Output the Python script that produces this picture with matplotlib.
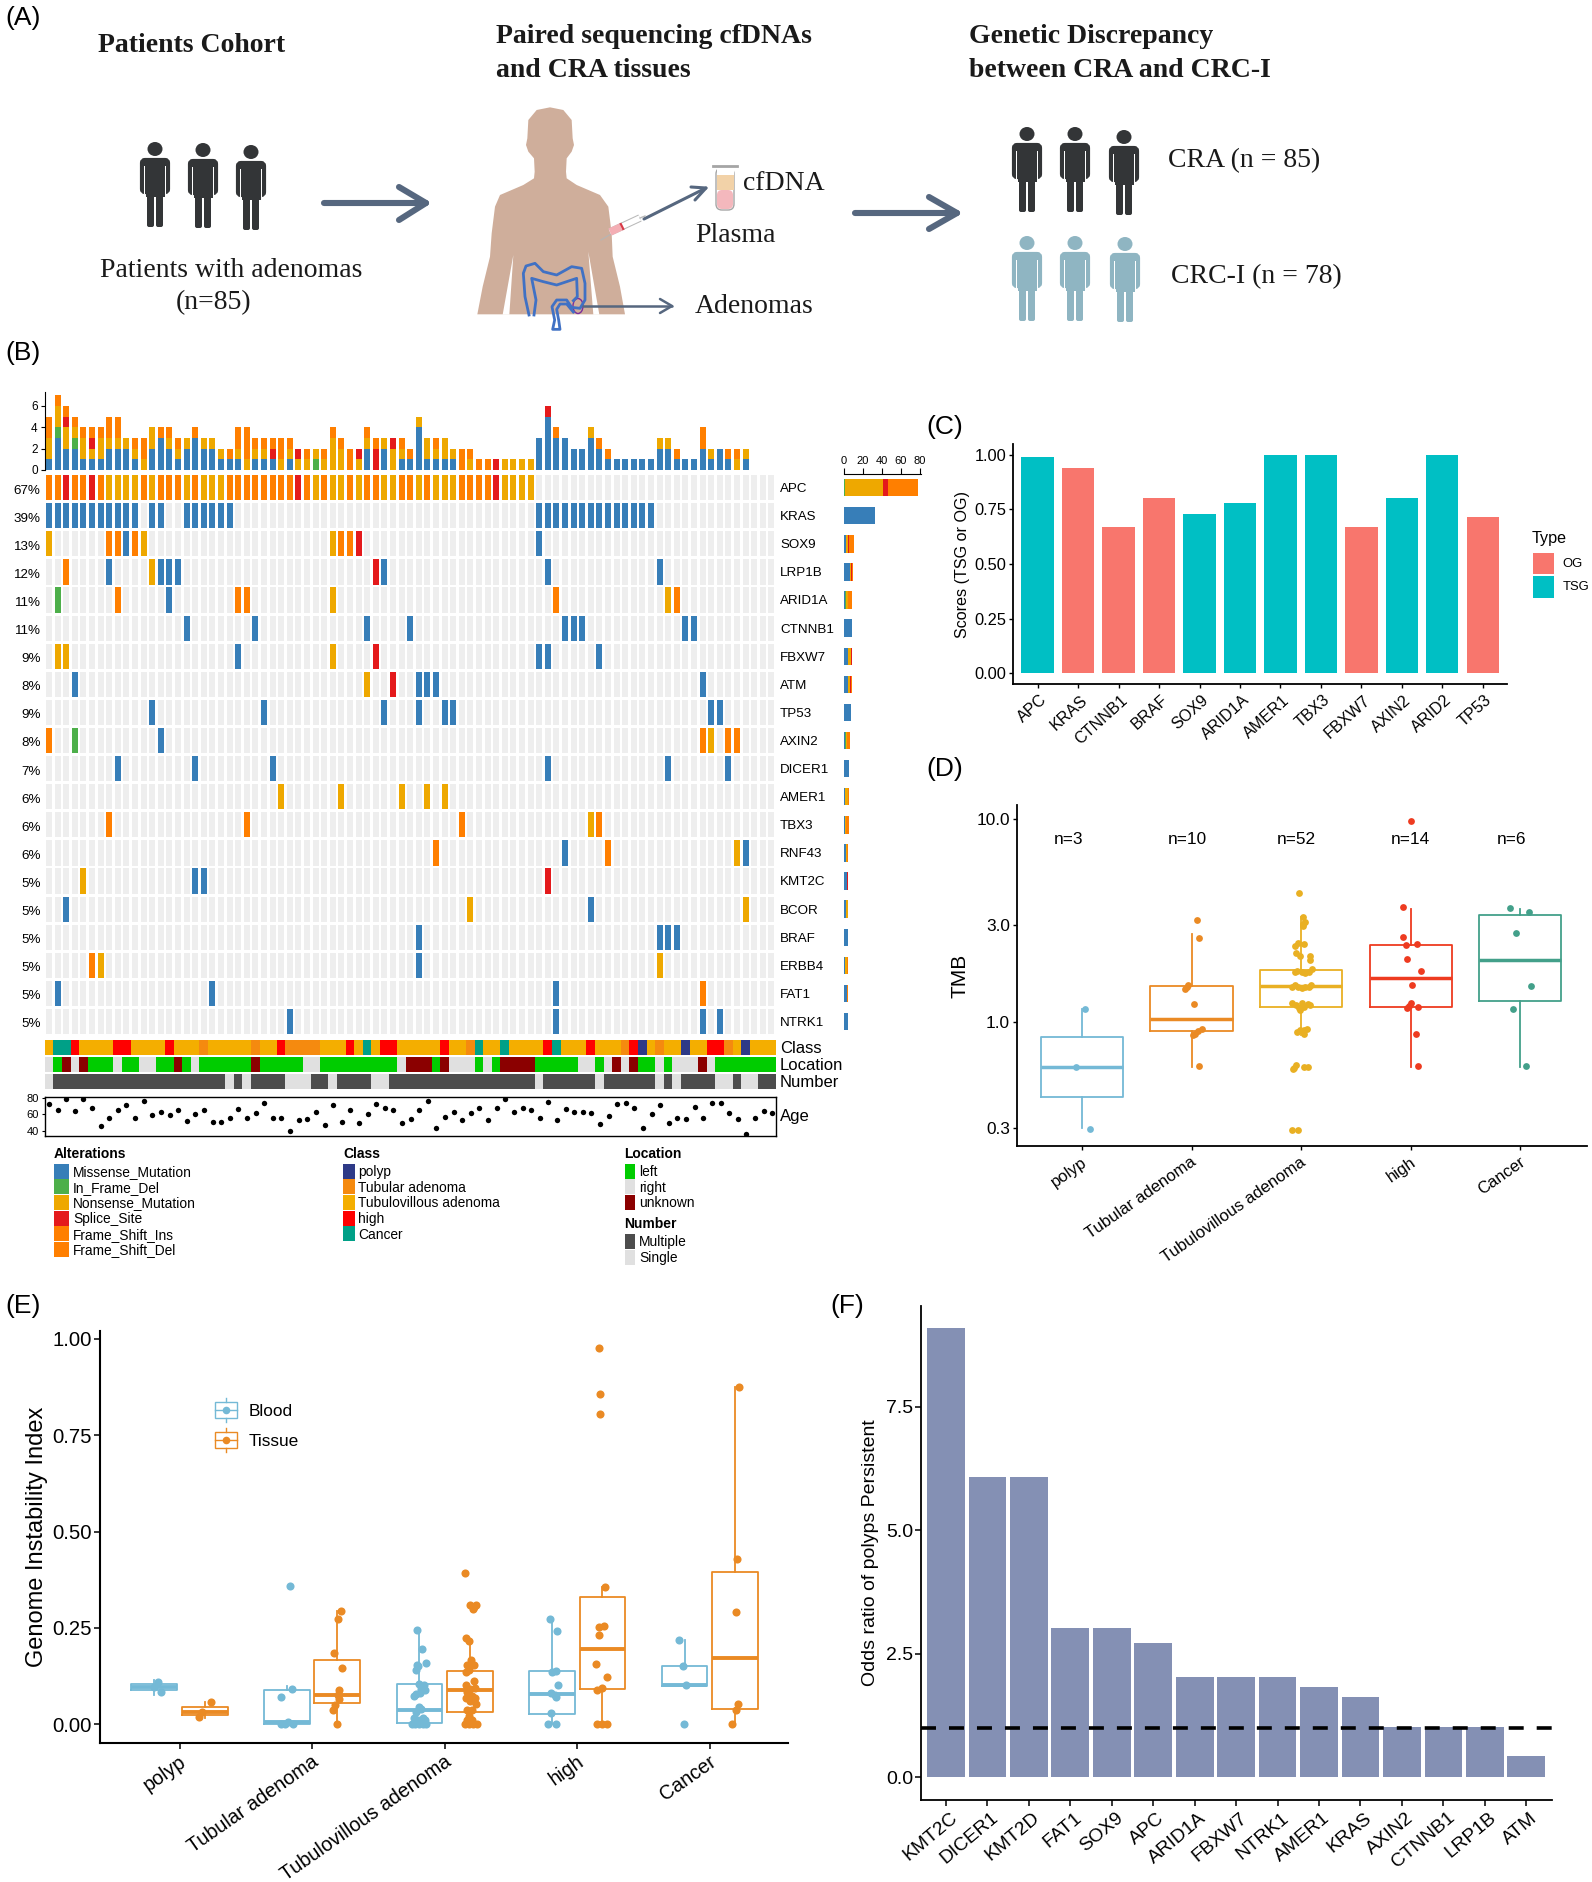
import matplotlib
matplotlib.use("Agg")
import matplotlib.pyplot as plt
from matplotlib.patches import Rectangle, Polygon, Ellipse, FancyBboxPatch
from matplotlib.transforms import ScaledTranslation
from matplotlib.ticker import NullLocator

plt.rcParams['font.family'] = 'Liberation Sans'

W, H = 1592, 1882

# panel B: oncoplot
genes = ['APC', 'KRAS', 'SOX9', 'LRP1B', 'ARID1A', 'CTNNB1', 'FBXW7', 'ATM', 'TP53', 'AXIN2',
         'DICER1', 'AMER1', 'TBX3', 'RNF43', 'KMT2C', 'BCOR', 'BRAF', 'ERBB4', 'FAT1', 'NTRK1']
pct = ['67%', '39%', '13%', '12%', '11%', '11%', '9%', '8%', '9%', '8%',
       '7%', '6%', '6%', '6%', '5%', '5%', '5%', '5%', '5%', '5%']
apc = "OOROOROYYY" "YOYOOOYOYY" "YOOOOOOOOR" "OYOYYOYOOY" "YOOYOYYYOO" "OORYYYY"
kras = list(range(11)) + [12, 13] + list(range(16, 22)) + list(range(57, 71))
gene_rows = [
    dict(enumerate(apc)),
    {c: 'B' for c in kras},
    {0: 'Y', 7: 'O', 8: 'O', 9: 'B', 10: 'O', 11: 'Y', 33: 'Y', 34: 'O', 35: 'O', 36: 'R', 57: 'B'},
    {2: 'O', 7: 'B', 12: 'Y', 13: 'B', 14: 'B', 15: 'B', 38: 'R', 39: 'B', 58: 'B', 71: 'B'},
    {1: 'G', 8: 'O', 14: 'B', 22: 'O', 23: 'O', 33: 'Y', 59: 'O', 72: 'Y', 73: 'O'},
    {16: 'B', 24: 'B', 37: 'B', 42: 'B', 60: 'B', 61: 'B', 62: 'B', 74: 'B', 75: 'B'},
    {1: 'Y', 2: 'Y', 22: 'B', 33: 'Y', 38: 'R', 57: 'B', 58: 'B', 64: 'B'},
    {3: 'B', 37: 'Y', 40: 'R', 43: 'B', 44: 'B', 45: 'B', 76: 'B'},
    {12: 'B', 25: 'B', 39: 'B', 43: 'B', 46: 'B', 47: 'B', 77: 'B', 78: 'B'},
    {0: 'O', 3: 'G', 13: 'B', 76: 'O', 77: 'Y', 79: 'O', 80: 'O'},
    {8: 'B', 17: 'B', 26: 'B', 58: 'B', 72: 'B', 79: 'B'},
    {27: 'Y', 34: 'Y', 41: 'Y', 44: 'Y', 46: 'Y'},
    {7: 'O', 23: 'O', 48: 'O', 63: 'Y', 64: 'O'},
    {45: 'O', 60: 'B', 65: 'O', 80: 'Y', 81: 'B'},
    {4: 'Y', 17: 'B', 18: 'B', 58: 'R'},
    {2: 'B', 49: 'Y', 63: 'B', 81: 'Y'},
    {43: 'B', 71: 'B', 72: 'B', 73: 'B'},
    {5: 'O', 6: 'Y', 43: 'B', 71: 'Y'},
    {1: 'B', 19: 'B', 59: 'B', 76: 'O'},
    {28: 'B', 59: 'B', 76: 'B', 78: 'B'},
]
# mutations per sample, bottom to top
top_stacks = [
    "BYYOO", "BBBGYYO", "BBYYRO", "BBGYO", "BYYO", "BYRO", "BYYO", "BBYOO", "BBYOO", "BBY",
    "BYO", "YOO", "BBYY", "BBBO", "BBYO", "BYO", "BBY", "BBBO", "BBY", "BBY",
    "BY", "BO", "BYOO", "YOOO", "BYO", "BYO", "BRO", "YOO", "BYO", "YR",
    "YO", "GY", "YO", "YYYO", "YYO", "OO", "YR", "BBYO", "RRO", "BBY",
    "YYR", "BYO", "BO", "BBBBY", "BYY", "BYO", "BYY", "BY", "OO", "YO",
    "O", "O", "R", "Y", "Y", "Y", "Y", "BBB", "BBBBBR", "BBBO",
    "BBB", "BB", "BB", "BBBY", "BBO", "BO", "B", "B", "B", "B",
    "B", "BBY", "BBY", "BO", "B", "B", "BBOO", "BY", "BB", "BO",
    "YO", "BY", "", "", "",
]
side_missense = [0, 33, 2, 7, 1, 9, 5, 5, 8, 1, 6, 1, 1, 2, 3, 2, 4, 1, 3, 4]
side_inframe = [1, 0, 0, 0, 1, 0, 0, 0, 0, 1, 0, 0, 0, 0, 0, 0, 0, 0, 0, 0]
side_nonsense = [40, 0, 3, 1, 2, 0, 3, 2, 0, 1, 0, 4, 1, 1, 0, 2, 0, 2, 0, 0]
side_splice = [5, 0, 1, 1, 0, 0, 1, 1, 0, 0, 0, 0, 0, 0, 1, 0, 0, 0, 0, 0]
side_frameshift = [32, 0, 5, 1, 5, 0, 0, 1, 0, 4, 0, 1, 4, 2, 1, 0, 0, 2, 1, 0]

class_codes = "".join("T CC H TTTT HH TTTT H TTT A TTTTT A TT H AAAA TTT H T C T HH TTTTT H TT A C TT C "
                      "TTTT H C TTT H TTT A H P T A TT P TT HH A T P TTT".split())
location_codes = "".join("R L U R U LLL R LL RR LL U L R LLLLLL U LLLLL RR LLLLLLLLL R UUU L U RRR L R L "
                         "UUUU LLLLL RR L R U R U LL R L RRR U R LLLLLLL".split())
number_codes = ("S" + "M" * 20 + "S" + "M" + "S" + "M" * 4 + "S" * 3 + "M" * 2 + "S" + "M" * 4 + "S" * 2
                + "M" * 17 + "S" + "M" * 6 + "S" + "M" * 6 + "S" + "M" + "S" + "M" * 4 + "S" * 2 + "M"
                + "S" * 2 + "M" * 2)
ages = [72, 65, 78, 64, 78, 67, 46, 56, 65, 71, 55, 76, 59, 63, 59, 65, 52, 60, 65, 51,
        51, 56, 66, 56, 61, 73, 56, 55, 40, 53, 54, 63, 47, 71, 51, 65, 50, 60, 72, 68,
        65, 49, 54, 65, 76, 44, 57, 63, 53, 61, 67, 53, 67, 78, 63, 68, 65, 56, 75, 53,
        66, 63, 63, 61, 48, 58, 72, 73, 68, 43, 60, 71, 49, 55, 54, 69, 55, 74, 73, 62,
        54, 36, 56, 64, 61]

# panel C
c_genes = ['APC', 'KRAS', 'CTNNB1', 'BRAF', 'SOX9', 'ARID1A', 'AMER1', 'TBX3', 'FBXW7', 'AXIN2', 'ARID2', 'TP53']
c_scores = [0.99, 0.94, 0.667, 0.80, 0.727, 0.778, 1.0, 1.0, 0.667, 0.80, 1.0, 0.714]
c_types = ['TSG', 'OG', 'OG', 'OG', 'TSG', 'TSG', 'TSG', 'TSG', 'OG', 'TSG', 'TSG', 'OG']

# panel D: q1, median, q3, low whisker, high whisker
classes = ['polyp', 'Tubular adenoma', 'Tubulovillous adenoma', 'high', 'Cancer']
n_labels = ['n=3', 'n=10', 'n=52', 'n=14', 'n=6']
tmb_boxes = [(0.426, 0.60, 0.847, 0.30, 1.16), (0.90, 1.04, 1.50, 0.60, 2.70), (1.19, 1.50, 1.80, 0.86, 3.30),
             (1.19, 1.64, 2.40, 0.60, 3.59), (1.27, 2.01, 3.35, 0.60, 3.59)]
tmb_jit = [
    [0.027, -0.05, 0.077],
    [0.05, 0.07, -0.03, -0.06, -0.045, 0.025, 0.095, 0.06, 0.03, 0.015, 0.065],
    [-0.02, 0.015, 0.04, 0.015, 0.02, -0.06, -0.03, 0.03, -0.05, -0.01, 0.08, 0.08, -0.06, -0.035, 0.01, 0.04,
     0.07, 0.1, -0.085, -0.055, -0.03, 0.01, 0.04, 0.07, 0.09, -0.08, -0.045, -0.015, 0.01, 0.03, 0.06, 0.08,
     -0.01, -0.035, -0.01, 0.03, 0.05, 0.03, -0.045, -0.065, -0.075, 0.03, 0.06, -0.08, -0.025],
    [-0.07, 0.0, -0.07, -0.04, 0.055, -0.035, 0.09, 0.015, 0.0, -0.03, 0.07, 0.05, 0.07, -0.015],
    [-0.09, 0.08, -0.04, 0.095, -0.065, 0.055],
]
tmb_vals = [
    [1.16, 0.60, 0.296],
    [3.18, 2.60, 1.53, 1.45, 1.49, 1.22, 0.92, 0.90, 0.87, 0.86, 0.61],
    [4.30, 3.30, 3.11, 3.03, 2.97, 2.38, 2.44, 2.42, 2.18, 2.12, 2.12, 2.02, 1.77, 1.79, 1.77, 1.75,
     1.77, 1.82, 1.49, 1.52, 1.49, 1.47, 1.49, 1.48, 1.52, 1.24, 1.21, 1.17, 1.24, 1.19, 1.23, 1.21,
     1.15, 0.89, 0.913, 0.913, 0.924, 0.873, 0.614, 0.596, 0.585, 0.602, 0.60, 0.294, 0.294],
    [3.67, 9.83, 2.63, 2.40, 2.43, 2.04, 1.78, 1.53, 1.24, 1.17, 1.19, 0.876, 0.607, 1.20],
    [3.64, 3.48, 2.74, 1.50, 1.16, 0.607],
]
tmb_colors = ['#74b9d6', '#ea8a24', '#e9b023', '#ee3b20', '#43a08a']

# panel E
gii_blood_boxes = [(0.088, 0.096, 0.105, 0.076, 0.114), (0.0, 0.005, 0.088, 0.0, 0.099), (0.004, 0.036, 0.104, 0.0, 0.247),
                   (0.028, 0.078, 0.138, 0.0, 0.275), (0.099, 0.101, 0.152, 0.099, 0.218)]
gii_tissue_boxes = [(0.024, 0.033, 0.045, 0.016, 0.057), (0.056, 0.077, 0.167, 0.0, 0.295), (0.031, 0.089, 0.139, 0.0, 0.213),
                    (0.091, 0.196, 0.331, 0.0, 0.356), (0.039, 0.172, 0.394, 0.0, 0.874)]
gii_blood_jit = [
    [-0.166, -0.139, -0.189],
    [-0.169, -0.15, -0.231, -0.231, -0.185, -0.142, -0.208],
    [-0.208, -0.169, -0.142, -0.212, -0.216, -0.204, -0.196, -0.158, -0.181, -0.15, -0.216, -0.235, -0.189, -0.177,
     -0.216, -0.196, -0.235, -0.204, -0.166, -0.227, -0.196, -0.166, -0.139, -0.243, -0.212, -0.177, -0.15],
    [-0.208, -0.154, -0.192, -0.162, -0.142, -0.169, -0.2, -0.162, -0.196, -0.219, -0.162],
    [-0.235, -0.204, -0.177, -0.192],
]
gii_blood_vals = [
    [0.109, 0.083, 0.096],
    [0.359, 0.093, 0.072, 0.0, 0.007, 0.0, 0.0],
    [0.245, 0.195, 0.158, 0.155, 0.141, 0.151, 0.105, 0.103, 0.093, 0.088, 0.079, 0.074, 0.082, 0.04,
     0.031, 0.045, 0.016, 0.012, 0.016, 0.0, 0.0, 0.0, 0.0, 0.0, 0.007, 0.007, 0.012],
    [0.274, 0.243, 0.136, 0.138, 0.101, 0.076, 0.081, 0.072, 0.03, 0.0, 0.0],
    [0.22, 0.151, 0.101, 0.0],
]
gii_tissue_jit = [
    [0.235, 0.166, 0.15],
    [0.219, 0.192, 0.166, 0.223, 0.2, 0.192, 0.2, 0.173, 0.158, 0.185],
    [0.154, 0.189, 0.235, 0.212, 0.219, 0.162, 0.181, 0.196, 0.169, 0.219, 0.158, 0.181, 0.219, 0.158, 0.189, 0.227,
     0.169, 0.208, 0.158, 0.227, 0.189, 0.235, 0.169, 0.208, 0.181, 0.15, 0.181, 0.212, 0.243, 0.169, 0.208],
    [0.166, 0.173, 0.169, 0.208, 0.162, 0.204, 0.166, 0.139, 0.227, 0.185, 0.146, 0.15, 0.185, 0.223],
    [0.219, 0.208, 0.2, 0.212, 0.2, 0.166],
]
gii_tissue_vals = [
    [0.057, 0.033, 0.019],
    [0.295, 0.272, 0.185, 0.146, 0.088, 0.076, 0.066, 0.05, 0.037, 0.0],
    [0.393, 0.309, 0.309, 0.299, 0.304, 0.223, 0.216, 0.168, 0.155, 0.155, 0.136, 0.141, 0.112, 0.103, 0.093, 0.095,
     0.083, 0.074, 0.069, 0.069, 0.06, 0.053, 0.036, 0.036, 0.021, 0.0, 0.0, 0.0, 0.0, 0.012, 0.012],
    [0.975, 0.856, 0.805, 0.356, 0.253, 0.255, 0.232, 0.157, 0.122, 0.095, 0.088, 0.0, 0.0, 0.0],
    [0.874, 0.428, 0.291, 0.053, 0.036, 0.0],
]

# panel F
f_genes = ['KMT2C', 'DICER1', 'KMT2D', 'FAT1', 'SOX9', 'APC', 'ARID1A', 'FBXW7', 'NTRK1', 'AMER1', 'KRAS',
           'AXIN2', 'CTNNB1', 'LRP1B', 'ATM']
f_odds = [9.1, 6.07, 6.07, 3.03, 3.03, 2.71, 2.03, 2.03, 2.03, 1.82, 1.62, 1.02, 1.02, 1.02, 0.44]

# colours
mut_colors = {'B': '#377eb8', 'G': '#4daf4a', 'Y': '#eea800', 'R': '#e41a1c', 'O': '#ff7f00'}
class_colors = {'P': '#2e3a87', 'A': '#f58a0f', 'T': '#f4ae00', 'H': '#ff0000', 'C': '#00a087'}
loc_colors = {'L': '#00cc00', 'R': '#e0e0e0', 'U': '#8b0000'}
num_colors = {'M': '#4d4d4d', 'S': '#e0e0e0'}
type_colors = {'OG': '#f8766d', 'TSG': '#00bfc4'}
blue_col = '#74b9d6'
orange_col = '#ea8a24'
arrow_col = '#56677f'

fig = plt.figure(figsize=(W / 100, H / 100), dpi=100, facecolor='white')


def axes_px(x0, y0, x1, y1):
    return fig.add_axes([x0 / W, 1 - y1 / H, (x1 - x0) / W, (y1 - y0) / H])


def classic(ax, lw=1.3):
    for s in ['top', 'right']:
        ax.spines[s].set_visible(False)
    for s in ['left', 'bottom']:
        ax.spines[s].set_linewidth(lw)


def rot_labels(ax, labels, rotation, size, dx=4):
    ax.set_xticks(range(len(labels)))
    ax.set_xticklabels(labels, rotation=rotation, ha='right', va='top', rotation_mode='anchor', fontsize=size)
    off = ScaledTranslation(dx / 100, 0, fig.dpi_scale_trans)
    for lab in ax.get_xticklabels():
        lab.set_transform(lab.get_transform() + off)


def boxes(ax, stats, positions, width, color, lw=1.5, mlw=3):
    rows = [dict(q1=s[0], med=s[1], q3=s[2], whislo=s[3], whishi=s[4], fliers=[]) for s in stats]
    ax.bxp(rows, positions=positions, widths=width, showcaps=False, showfliers=False, manage_ticks=False,
           boxprops=dict(color=color, linewidth=lw), whiskerprops=dict(color=color, linewidth=lw),
           medianprops=dict(color=color, linewidth=mlw, solid_capstyle='butt'))


# overlay in image pixels for panel A, panel letters and hand-placed legends
ov = fig.add_axes([0, 0, 1, 1], zorder=5)
ov.set_xlim(0, W)
ov.set_ylim(H, 0)
ov.axis('off')
ov.patch.set_alpha(0)


def serif(x, y, s, size=20, weight='normal', ha='left'):
    ov.text(x, y + 2, s, family='Liberation Serif', fontsize=size, fontweight=weight, ha=ha, va='center', color='#1a1a1a')


def person(cx, head_y, col):
    ov.add_patch(Ellipse((cx, head_y), 15, 14, color=col, lw=0))
    ov.add_patch(FancyBboxPatch((cx - 13, head_y + 11), 26, 32, boxstyle='round,pad=0,rounding_size=3', color=col, lw=3))
    ov.add_patch(Rectangle((cx - 9.5, head_y + 16), 19, 32, color=col, lw=0))
    for sgn in (-1, 1):
        ov.add_patch(Rectangle((cx + sgn * 10.5 - 0.6, head_y + 17), 1.2, 28, color='white', lw=0))
    ov.add_patch(FancyBboxPatch((cx - 8, head_y + 46), 7, 32, boxstyle='round,pad=0,rounding_size=2', color=col, lw=0))
    ov.add_patch(FancyBboxPatch((cx + 1, head_y + 46), 7, 32, boxstyle='round,pad=0,rounding_size=2', color=col, lw=0))


def arrow(x0, y0, x1, y1, hx0, hy0, hx1, hy1, lw):
    kw = dict(color=arrow_col, lw=lw, solid_capstyle='round', solid_joinstyle='round')
    ov.plot([x0, x1], [y0, y1], **kw)
    ov.plot([hx0, x1, hx1], [hy0, y1, hy1], **kw)


serif(98, 43, 'Patients Cohort', weight='bold')
serif(496, 34, 'Paired sequencing cfDNAs', weight='bold')
serif(496, 68, 'and CRA tissues', weight='bold')
serif(969, 34, 'Genetic Discrepancy', weight='bold')
serif(969, 68, 'between CRA and CRC-I', weight='bold')
serif(231, 268, 'Patients with adenomas', ha='center')
serif(214, 301, '(n=85)', ha='center')
serif(743, 181, 'cfDNA')
serif(695, 233, 'Plasma')
serif(695, 304, 'Adenomas')
serif(1168, 159, 'CRA (n = 85)')
serif(1171, 275, 'CRC-I (n = 78)')

for cx, hy in [(155, 149), (203, 150), (251, 152)]:
    person(cx, hy, '#333537')
for cx, hy in [(1027, 134), (1075, 134), (1124, 137)]:
    person(cx, hy, '#333537')
for cx, hy in [(1027, 243), (1075, 243), (1125, 244)]:
    person(cx, hy, '#8fb5c2')

arrow(324, 203, 426, 203, 399, 187, 399, 220, 4.4)
arrow(855, 213, 957, 213, 929, 197, 929, 229, 4.4)


def z12(points):
    return [(460 + x / 3, 100 + y / 3) for x, y in points]


body = [(270, 22), (310, 30), (335, 60), (338, 115), (342, 135), (335, 155), (320, 175), (318, 215), (320, 235),
        (350, 255), (420, 285), (445, 320), (455, 400), (458, 470), (480, 560), (495, 643),
        (52, 643), (68, 560), (90, 470), (95, 400), (105, 320), (120, 285), (190, 255), (222, 235), (224, 215),
        (222, 175), (205, 155), (198, 135), (202, 115), (205, 60), (230, 30)]
ov.add_patch(Polygon(z12(body), closed=True, color='#cfae9b', lw=0))
for wedge in ([(160, 465), (148, 644), (128, 644)], [(385, 455), (400, 644), (418, 644)]):
    ov.add_patch(Polygon(z12(wedge), closed=True, color='white', lw=0))

colon_outer = [(207, 645), (195, 590), (190, 520), (198, 498), (225, 490), (250, 515), (290, 525), (335, 500),
               (365, 505), (375, 550), (375, 600), (360, 625), (335, 622), (320, 600), (290, 600), (276, 620),
               (284, 660), (278, 688), (300, 688), (296, 660), (290, 628), (300, 612), (320, 612), (340, 636)]
colon_inner = [(222, 645), (228, 600), (215, 535), (250, 545), (290, 555), (350, 535), (352, 590), (340, 602)]
for path in (colon_outer, colon_inner):
    pts = z12(path)
    ov.plot([p[0] for p in pts], [p[1] for p in pts], color='#4071c4', lw=2, solid_joinstyle='round')
ov.add_patch(Ellipse((578, 306), 10, 15, fill=False, ec='#7b2d9a', lw=1))
arrow(583, 306, 672, 306, 660, 299, 660, 313, 1.8)
arrow(644, 219, 706, 188, 691, 187, 695, 200, 2.2)

# syringe
ov.plot([601, 611], [240, 234], color='#b5b5b5', lw=0.8)
ov.plot([610, 640], [232, 218], color='#b9b9b9', lw=5.5, solid_capstyle='butt')
ov.plot([610, 640], [232, 218], color='white', lw=4, solid_capstyle='butt')
ov.plot([610, 621], [232, 227], color='#f4aeb4', lw=5.5, solid_capstyle='butt')
ov.plot([621, 623], [227, 226], color='#d93a48', lw=5.5, solid_capstyle='butt')
ov.plot([640, 645], [218, 216], color='#b9b9b9', lw=1)

# plasma tube
ov.add_patch(FancyBboxPatch((716, 168), 18, 42, boxstyle='round,pad=0,rounding_size=6', fc='white', ec='#a5a5a5', lw=1))
ov.add_patch(Rectangle((716.5, 167), 17, 8, color='white', lw=0))
ov.add_patch(Rectangle((716.5, 175), 17, 15, color='#f2d2a8', lw=0))
ov.add_patch(FancyBboxPatch((717, 190), 16, 19, boxstyle='round,pad=0,rounding_size=5', color='#f4b8bd', lw=0))
ov.plot([713, 737], [166, 166], color='#a5a5a5', lw=2)

# panel letters
for lab, x, y in [('(A)', 5, 18), ('(B)', 5, 353), ('(C)', 926, 427), ('(D)', 926, 769), ('(E)', 5, 1306), ('(F)', 830, 1306)]:
    ov.text(x, y, lab, fontsize=19, ha='left', va='center')

# --- panel B
top_ax = axes_px(44.7, 391.7, 775.7, 470)
for i, stack in enumerate(top_stacks):
    for j, code in enumerate(stack):
        top_ax.bar(i + 0.5, 1, bottom=j, width=0.72, color=mut_colors[code], lw=0)
top_ax.set_xlim(0, 85)
top_ax.set_ylim(0, 7.32)
top_ax.set_xticks([])
top_ax.set_yticks([0, 2, 4, 6])
top_ax.tick_params(axis='y', labelsize=8.5, length=3, width=0.8, pad=2)
for s in ['top', 'right', 'bottom']:
    top_ax.spines[s].set_visible(False)
top_ax.spines['left'].set_linewidth(0.8)

grid_ax = axes_px(44.7, 473.6, 775.7, 1035.6)
for r, row in enumerate(gene_rows):
    cols = [mut_colors[row[c]] if c in row else '#eeeeee' for c in range(85)]
    grid_ax.bar([c + 0.5 for c in range(85)], 0.9, bottom=r + 0.05, width=0.7, color=cols, lw=0)
    grid_ax.text(85.5, r + 0.55, genes[r], fontsize=9.6, ha='left', va='center')
grid_ax.set_xlim(0, 85)
grid_ax.set_ylim(20, 0)
grid_ax.set_xticks([])
grid_ax.set_yticks([r + 0.55 for r in range(20)])
grid_ax.set_yticklabels(pct, fontsize=9.6)
grid_ax.tick_params(axis='y', length=0, pad=3)
for s in grid_ax.spines.values():
    s.set_visible(False)

side_ax = axes_px(843.7, 473.6, 921, 1035.6)
left = [0] * 20
for vals, code in [(side_missense, 'B'), (side_inframe, 'G'), (side_nonsense, 'Y'), (side_splice, 'R'), (side_frameshift, 'O')]:
    side_ax.barh([r + 0.5 for r in range(20)], vals, left=left, height=0.62, color=mut_colors[code], lw=0)
    left = [a + b for a, b in zip(left, vals)]
side_ax.set_xlim(0, 81)
side_ax.set_ylim(20, 0)
side_ax.set_yticks([])
side_ax.set_xticks([0, 20, 40, 60, 80])
side_ax.xaxis.tick_top()
side_ax.tick_params(axis='x', labelsize=8, length=4, width=0.8, pad=1.5)
for s in ['left', 'right', 'bottom']:
    side_ax.spines[s].set_visible(False)
side_ax.spines['top'].set_linewidth(0.8)

for codes, palette, y0, y1, name in [(class_codes, class_colors, 1040, 1055.3, 'Class'),
                                     (location_codes, loc_colors, 1056.7, 1072.3, 'Location'),
                                     (number_codes, num_colors, 1073.7, 1089.3, 'Number')]:
    st = axes_px(44.7, y0, 775.7, y1)
    st.bar([c + 0.5 for c in range(85)], 1, width=1.0, color=[palette[k] for k in codes], lw=0)
    st.set_xlim(0, 85)
    st.set_ylim(0, 1)
    st.axis('off')
    ov.text(780, (y0 + y1) / 2 + 1, name, fontsize=12, ha='left', va='center')

age_ax = axes_px(44.7, 1097, 776.5, 1136.3)
age_ax.scatter([i + 0.5 for i in range(85)], ages, s=15, color='black', lw=0)
age_ax.set_xlim(0, 85)
age_ax.set_ylim(33.6, 80.8)
age_ax.set_xticks([])
age_ax.set_yticks([40, 60, 80])
age_ax.tick_params(axis='y', labelsize=8, length=2.5, width=0.8, pad=1.5)
for s in age_ax.spines.values():
    s.set_linewidth(1)
ov.text(780, 1117, 'Age', fontsize=12, ha='left', va='center')


def legend_block(title, x, y_title, xtxt, sw, items, ys):
    ov.text(x, y_title + 1, title, fontsize=10, fontweight='bold', ha='left', va='center')
    for (lab, col), y in zip(items, ys):
        ov.add_patch(Rectangle((x, y - 7.5), sw, 15, color=col, lw=0))
        ov.text(xtxt, y + 1, lab, fontsize=9.9, ha='left', va='center')


leg_ys = [1171, 1186.7, 1202.3, 1218, 1233.7, 1249.3]
legend_block('Alterations', 54, 1152.7, 73, 14.5,
             [('Missense_Mutation', mut_colors['B']), ('In_Frame_Del', mut_colors['G']),
              ('Nonsense_Mutation', mut_colors['Y']), ('Splice_Site', mut_colors['R']),
              ('Frame_Shift_Ins', mut_colors['O']), ('Frame_Shift_Del', mut_colors['O'])], leg_ys)
legend_block('Class', 343, 1152.7, 358, 11.5,
             [('polyp', class_colors['P']), ('Tubular adenoma', class_colors['A']),
              ('Tubulovillous adenoma', class_colors['T']), ('high', class_colors['H']),
              ('Cancer', class_colors['C'])], leg_ys)
legend_block('Location', 624.5, 1152.7, 639, 10.5,
             [('left', loc_colors['L']), ('right', loc_colors['R']), ('unknown', loc_colors['U'])], leg_ys)
legend_block('Number', 624.5, 1222.7, 639, 10.5,
             [('Multiple', num_colors['M']), ('Single', num_colors['S'])], [1241.3, 1257])

# --- panel C
c_ax = axes_px(1013.4, 444.3, 1507, 684)
c_ax.bar(range(12), c_scores, width=0.8, color=[type_colors[t] for t in c_types], lw=0)
c_ax.set_xlim(-0.6, 11.6)
c_ax.set_ylim(-0.05, 1.048)
c_ax.set_yticks([0, 0.25, 0.5, 0.75, 1.0])
c_ax.set_yticklabels(['0.00', '0.25', '0.50', '0.75', '1.00'])
c_ax.set_ylabel('Scores (TSG or OG)', fontsize=11.6, labelpad=3.5)
c_ax.tick_params(axis='y', labelsize=11.8, length=3, width=1, pad=2)
c_ax.tick_params(axis='x', length=3, width=1, pad=3)
classic(c_ax)
rot_labels(c_ax, c_genes, 42, 11.6, dx=2)
ov.text(1532, 538, 'Type', fontsize=11.6, ha='left', va='center')
ov.add_patch(Rectangle((1532.5, 553.3), 21, 21, color=type_colors['OG'], lw=0))
ov.add_patch(Rectangle((1532.5, 576), 21, 21.7, color=type_colors['TSG'], lw=0))
ov.text(1562.5, 564, 'OG', fontsize=9.4, ha='left', va='center')
ov.text(1562.5, 587, 'TSG', fontsize=9.4, ha='left', va='center')

# --- panel D
d_ax = axes_px(1016.7, 805, 1586.6, 1146)
for i, col in enumerate(tmb_colors):
    boxes(d_ax, [tmb_boxes[i]], [i], 0.75, col, lw=1.3, mlw=2.5)
    d_ax.scatter([i + j for j in tmb_jit[i]], tmb_vals[i], s=24, color=col, lw=0, zorder=3)
    d_ax.text(i + [-0.12, -0.04, -0.04, 0.0, -0.08][i], 7.95, n_labels[i], fontsize=12.4, ha='center', va='center')
d_ax.set_yscale('log')
d_ax.set_xlim(-0.595, 4.605)
d_ax.set_ylim(0.245, 11.72)
d_ax.set_yticks([0.3, 1, 3, 10])
d_ax.set_yticklabels(['0.3', '1.0', '3.0', '10.0'])
d_ax.yaxis.set_minor_locator(NullLocator())
d_ax.set_ylabel('TMB', fontsize=15, labelpad=5)
d_ax.tick_params(axis='y', labelsize=12.4, length=3, width=1, pad=2)
d_ax.tick_params(axis='x', length=3, width=1, pad=3)
classic(d_ax)
rot_labels(d_ax, classes, 35, 12, dx=-1)

# --- panel E
e_ax = axes_px(100, 1330.7, 788, 1742.5)
for i in range(5):
    boxes(e_ax, [gii_blood_boxes[i]], [i - 0.19], 0.345, blue_col, lw=1.3, mlw=2.8)
    boxes(e_ax, [gii_tissue_boxes[i]], [i + 0.19], 0.345, orange_col, lw=1.3, mlw=2.8)
    e_ax.scatter([i + j for j in gii_blood_jit[i]], gii_blood_vals[i], s=34, color=blue_col, lw=0, zorder=3)
    e_ax.scatter([i + j for j in gii_tissue_jit[i]], gii_tissue_vals[i], s=34, color=orange_col, lw=0, zorder=3)
e_ax.set_xlim(-0.6, 4.59)
e_ax.set_ylim(-0.047, 1.021)
e_ax.set_yticks([0, 0.25, 0.5, 0.75, 1.0])
e_ax.set_yticklabels(['0.00', '0.25', '0.50', '0.75', '1.00'])
e_ax.set_ylabel('Genome Instability Index', fontsize=17, labelpad=3)
e_ax.tick_params(axis='y', labelsize=14.6, length=4, width=1.1, pad=2)
e_ax.tick_params(axis='x', length=4, width=1.1, pad=3)
classic(e_ax, 1.5)
rot_labels(e_ax, classes, 35, 14.2, dx=-1)
for lab, col, y in [('Blood', blue_col, 1410), ('Tissue', orange_col, 1440)]:
    ov.add_patch(Rectangle((214.5, y - 8), 22.5, 16, fill=False, ec=col, lw=1))
    ov.plot([214.5, 237], [y, y], color=col, lw=1)
    ov.plot([226, 226], [y - 12, y - 8], color=col, lw=1)
    ov.plot([226, 226], [y + 8, y + 12], color=col, lw=1)
    ov.scatter([226], [y], s=30, color=col, lw=0)
    ov.text(249, y + 1, lab, fontsize=12.4, ha='left', va='center')

# --- panel F
f_ax = axes_px(921.4, 1305.9, 1552, 1799.6)
f_ax.bar(range(15), f_odds, width=0.91, color='#8490b4', lw=0)
f_ax.axhline(1, color='black', lw=2.6, linestyle=(0, (4.15, 3.6)), zorder=3)
f_ax.set_xlim(-0.593, 14.62)
f_ax.set_ylim(-0.451, 9.54)
f_ax.set_yticks([0, 2.5, 5, 7.5])
f_ax.set_yticklabels(['0.0', '2.5', '5.0', '7.5'])
f_ax.set_ylabel('Odds ratio of polyps Persistent', fontsize=14, labelpad=5)
f_ax.tick_params(axis='y', labelsize=14, length=4, width=1.1, pad=2)
f_ax.tick_params(axis='x', length=4, width=1.1, pad=3)
classic(f_ax)
rot_labels(f_ax, f_genes, 40, 13.8, dx=3.5)

fig.savefig('out.png', dpi=100)
